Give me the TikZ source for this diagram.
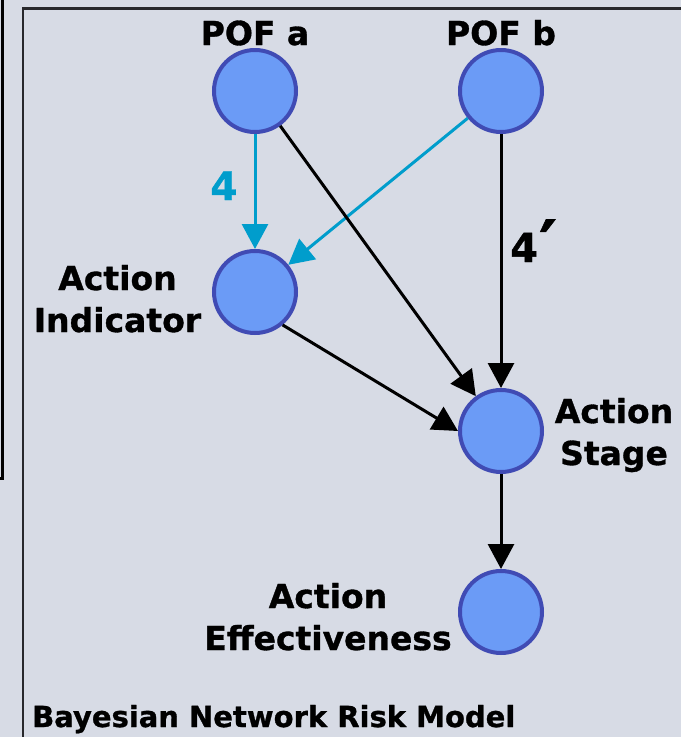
\documentclass[tikz,border=0pt]{standalone}
\usepackage{fontspec}
\setmainfont{DejaVu Sans}[BoldFeatures={FakeBold=1}]
\usetikzlibrary{arrows.meta}
\definecolor{panelbg}{RGB}{215,219,229}
\definecolor{nodefill}{RGB}{107,155,246}
\definecolor{nodeedge}{RGB}{64,75,180}
\definecolor{linkcyan}{RGB}{0,157,204}
\definecolor{framegray}{RGB}{40,40,44}
\tikzset{
  bnnode/.style={circle, draw=nodeedge, fill=nodefill, line width=4pt, minimum size=82pt, inner sep=0pt},
  bnlabel/.style={font=\fontsize{33}{42}\selectfont\bfseries, inner sep=0pt, align=center},
  bnlink/.style={line width=3pt, -{Triangle[width=26pt,length=25pt]}},
  cyanlink/.style={bnlink, draw=linkcyan, fill=linkcyan},
  blacklink/.style={bnlink, draw=black, fill=black}
}
\begin{document}
\begin{tikzpicture}[x=1pt, y=-1pt]
  % page and panel
  \fill[panelbg] (0,0) rectangle (681,737);
  \useasboundingbox (0,0) rectangle (681,737);
  \draw[line width=3pt, black] (2.5,0) -- (2.5,478) -- (0,478);
  \draw[line width=2.6pt, framegray] (23,737) -- (23,8.5) -- (681,8.5);

  % network nodes
  \node[bnnode] (pofa) at (255,91) {};
  \node[bnnode] (pofb) at (501,91) {};
  \node[bnnode] (ind)  at (255,292) {};
  \node[bnnode] (stage) at (501,431) {};
  \node[bnnode] (eff)  at (501,612) {};

  % labels (base anchor of a two-line label sits on its second line)
  \node[bnlabel, anchor=base] (lpofa) at (255,45) {POF a};
  \node[bnlabel, anchor=base] (lpofb) at (501,45) {POF b};
  \node[bnlabel, anchor=base] (lind) at (117.5,332) {Action\\Indicator};
  \node[bnlabel, anchor=base] (lstage) at (614,465) {Action\\Stage};
  \node[bnlabel, anchor=base] (leff) at (328,650) {Action\\Effectiveness};
  \node[bnlabel, anchor=base, text=linkcyan, font=\fontsize{39}{42}\selectfont\bfseries] (lfour) at (224,200) {4};
  \node[bnlabel, anchor=base west, font=\fontsize{40}{42}\selectfont\bfseries] (lfourp) at (510,262) {4\kern1pt\raisebox{-7pt}{\scalebox{1.7}{′}}};

  % links
  \draw[cyanlink] (pofa) -- (ind);
  \draw[cyanlink] (pofb) -- (ind);
  \draw[blacklink] (pofa) -- (stage);
  \draw[blacklink] (pofb) -- (stage);
  \draw[blacklink] (ind.-50) -- (stage.west);
  \draw[blacklink] (stage) -- (eff);

  % caption
  \node[font=\fontsize{29}{34}\selectfont\bfseries, anchor=base west, inner sep=0pt] (caption) at (32,727) {Bayesian Network Risk Model};
\end{tikzpicture}
\end{document}
